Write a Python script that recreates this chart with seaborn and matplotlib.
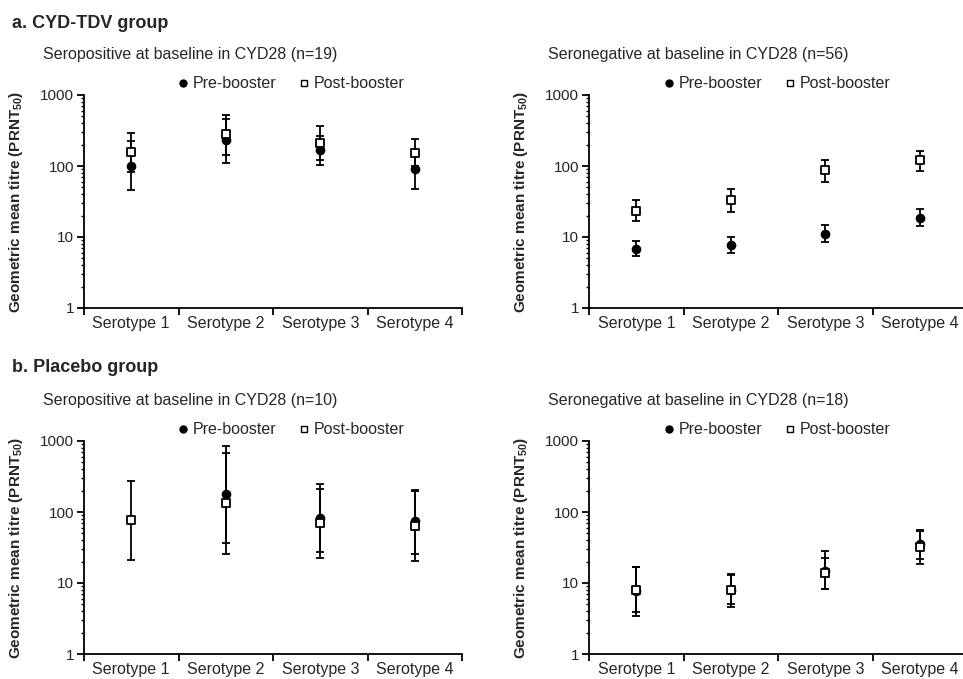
import numpy as np
import pandas as pd
import matplotlib
matplotlib.use("Agg")
import matplotlib.pyplot as plt
from matplotlib.lines import Line2D
from matplotlib.ticker import FixedLocator, LogLocator, NullFormatter
import seaborn as sns

sns.set_style("ticks")
plt.rcParams["font.family"] = ["Liberation Sans", "DejaVu Sans"]
plt.rcParams["mathtext.fontset"] = "custom"
plt.rcParams["mathtext.rm"] = "Liberation Sans"
plt.rcParams["mathtext.bf"] = "Liberation Sans:bold"

serotypes = ["Serotype 1", "Serotype 2", "Serotype 3", "Serotype 4"]

# a. CYD-TDV group, seropositive (n=19)
a_pos_pre = [100, 230, 166, 92]
a_pos_pre_lo = [46, 110, 102, 48]
a_pos_pre_hi = [224, 522, 267, 167]
a_pos_post = [157, 279, 208, 151]
a_pos_post_lo = [83, 141, 122, 100]
a_pos_post_hi = [291, 464, 361, 237]

# a. CYD-TDV group, seronegative (n=56)
a_neg_pre = [6.8, 7.7, 11.2, 18.6]
a_neg_pre_lo = [5.4, 6.0, 8.6, 14.2]
a_neg_pre_hi = [8.7, 10.0, 14.8, 25.2]
a_neg_post = [23.4, 33.4, 86.5, 121]
a_neg_post_lo = [16.7, 22.4, 58.7, 85.6]
a_neg_post_hi = [33, 47.7, 120, 164]

# b. Placebo group, seropositive (n=10)
b_pos_pre = [np.nan, 180, 81, 74]
b_pos_pre_lo = [np.nan, 25.4, 22.8, 20.2]
b_pos_pre_hi = [np.nan, 841, 252, 205]
b_pos_post = [78, 133, 70, 64.5]
b_pos_post_lo = [20.9, 36.7, 27, 25.3]
b_pos_post_hi = [272, 684, 212, 195]

# b. Placebo group, seronegative (n=18)
b_neg_pre = [7.6, 7.9, 14.6, 35]
b_neg_pre_lo = [3.4, 4.6, 8.1, 18.3]
b_neg_pre_hi = [16.6, 13.1, 28, 56.6]
b_neg_post = [8.05, 7.9, 13.7, 32.1]
b_neg_post_lo = [3.9, 5.0, 8.2, 22]
b_neg_post_hi = [16.8, 13.3, 22.5, 54]


def make_df(pre, pre_lo, pre_hi, post, post_lo, post_hi):
    rows = []
    for name, g, lo, hi in [("Pre-booster", pre, pre_lo, pre_hi),
                            ("Post-booster", post, post_lo, post_hi)]:
        for i, s in enumerate(serotypes):
            rows.append({"serotype": s, "pos": i, "time": name,
                         "gmt": g[i], "lo": lo[i], "hi": hi[i]})
    return pd.DataFrame(rows)


panels = [
    (make_df(a_pos_pre, a_pos_pre_lo, a_pos_pre_hi, a_pos_post, a_pos_post_lo, a_pos_post_hi),
     "Seropositive at baseline in CYD28 (n=19)", [84, 95], 0.55),
    (make_df(a_neg_pre, a_neg_pre_lo, a_neg_pre_hi, a_neg_post, a_neg_post_lo, a_neg_post_hi),
     "Seronegative at baseline in CYD28 (n=56)", [589, 95], 0.50),
    (make_df(b_pos_pre, b_pos_pre_lo, b_pos_pre_hi, b_pos_post, b_pos_post_lo, b_pos_post_hi),
     "Seropositive at baseline in CYD28 (n=10)", [84, 441], 0.55),
    (make_df(b_neg_pre, b_neg_pre_lo, b_neg_pre_hi, b_neg_post, b_neg_post_lo, b_neg_post_hi),
     "Seronegative at baseline in CYD28 (n=18)", [589, 441], 0.50),
]

W, H = 963, 679
fig = plt.figure(figsize=(W / 100, H / 100), dpi=100)

styles = {
    "Pre-booster": dict(marker="o", color="black", edgecolor="black", zorder=4),
    "Post-booster": dict(marker="s", color="white", edgecolor="black", zorder=5),
}

for df, subtitle, (px, py), leg_x in panels:
    ax = fig.add_axes([px / W, 1 - (py + 213) / H, 378 / W, 213 / H])
    ax.set_yscale("log")

    for name in ["Pre-booster", "Post-booster"]:
        d = df[df["time"] == name].dropna()
        ax.errorbar(d["pos"], d["gmt"],
                    yerr=[d["gmt"] - d["lo"], d["hi"] - d["gmt"]],
                    fmt="none", ecolor="black", elinewidth=1.3,
                    capsize=3, capthick=1.3, zorder=3)
        st = styles[name]
        sns.scatterplot(data=d, x="pos", y="gmt", ax=ax, marker=st["marker"],
                        color=st["color"], edgecolor=st["edgecolor"],
                        linewidth=1.3, s=32, zorder=st["zorder"], legend=False)

    ax.set_xlim(-0.5, 3.5)
    ax.set_ylim(1, 1000)
    ax.set_xticks(range(len(serotypes)))
    ax.set_xticklabels(serotypes, fontsize=11.5)
    ax.xaxis.set_minor_locator(FixedLocator([-0.5, 0.5, 1.5, 2.5, 3.5]))
    ax.tick_params(axis="x", which="major", length=0, pad=6)
    ax.tick_params(axis="x", which="minor", length=5, width=1.3, color="black")
    ax.set_yticks([1, 10, 100, 1000])
    ax.set_yticklabels(["1", "10", "100", "1000"], fontsize=11)
    ax.yaxis.set_minor_locator(LogLocator(base=10, subs=np.arange(2, 10)))
    ax.yaxis.set_minor_formatter(NullFormatter())
    ax.tick_params(axis="y", which="major", length=5, width=1.3, color="black", pad=2)
    ax.tick_params(axis="y", which="minor", length=2.5, width=1.0, color="black")
    ax.set_xlabel("")
    ax.set_ylabel(r"Geometric mean titre (PRNT$_{\mathbf{50}}$)", fontsize=11,
                  fontweight="bold")
    ax.yaxis.set_label_coords(-0.155, 0.5)
    for sp in ["top", "right"]:
        ax.spines[sp].set_visible(False)
    for sp in ["left", "bottom"]:
        ax.spines[sp].set_linewidth(1.3)
        ax.spines[sp].set_color("black")

    handles = [
        Line2D([], [], marker="o", color="black", linestyle="none", markersize=5),
        Line2D([], [], marker="s", markerfacecolor="white", markeredgecolor="black",
               markeredgewidth=1.0, linestyle="none", markersize=5),
    ]
    ax.legend(handles, ["Pre-booster", "Post-booster"], ncol=2, frameon=False,
              loc="center", bbox_to_anchor=(leg_x, 1 + 11 / 213), fontsize=11.5,
              handlelength=0.5, handletextpad=0.35, columnspacing=1.5,
              borderpad=0, borderaxespad=0)

    fig.text((px - 41) / W, 1 - (py - 40) / H, subtitle, fontsize=11.5,
             ha="left", va="center")

fig.text(12 / W, 1 - 23 / H, "a. CYD-TDV group", fontsize=13,
         fontweight="bold", ha="left", va="center")
fig.text(12 / W, 1 - 368 / H, "b. Placebo group", fontsize=13,
         fontweight="bold", ha="left", va="center")

fig.savefig("out.png", dpi=100)
